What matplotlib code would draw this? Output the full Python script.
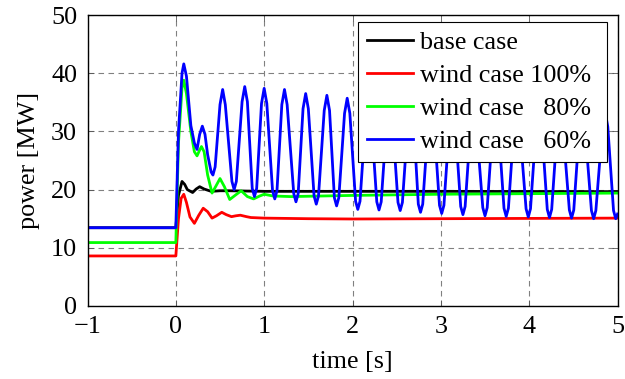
import matplotlib
matplotlib.use("Agg")
import matplotlib.pyplot as plt

plt.rcParams['font.family'] = ['Liberation Serif', 'DejaVu Serif']

# ---- data ----
t_base = [-1, 0, 0.03, 0.07, 0.10, 0.13, 0.19, 0.23, 0.27, 0.32, 0.40, 0.5, 0.6, 1.0, 2.0, 3.0, 5.0]
p_base = [13.45, 13.45, 19.0, 21.4, 20.9, 20.0, 19.5, 20.1, 20.5, 20.1, 19.7, 19.8, 19.8, 19.7, 19.7, 19.7, 19.65]

t_w100 = [-1, 0, 0.03, 0.06, 0.09, 0.12, 0.16, 0.21, 0.26, 0.31, 0.36, 0.41, 0.46, 0.52, 0.57,
          0.63, 0.68, 0.73, 0.80, 0.85, 1.0, 1.5, 2.0, 3.0, 4.0, 5.0]
p_w100 = [8.6, 8.6, 15.0, 18.5, 19.2, 17.8, 15.3, 14.2, 15.6, 16.8, 16.2, 15.1, 15.5, 16.1, 15.7,
          15.35, 15.5, 15.6, 15.35, 15.2, 15.1, 15.0, 14.95, 15.0, 15.05, 15.1]

t_w80 = [-1, 0, 0.03, 0.07, 0.09, 0.12, 0.17, 0.21, 0.24, 0.27, 0.29, 0.32, 0.36, 0.41, 0.45,
         0.50, 0.55, 0.61, 0.67, 0.74, 0.81, 0.88, 0.95, 1.00, 1.1, 1.3, 2.0, 3.0, 4.0, 5.0]
p_w80 = [10.9, 10.9, 28.0, 37.5, 38.8, 36.5, 30.0, 26.5, 25.8, 26.8, 27.4, 26.5, 22.5, 19.4, 20.5,
         21.9, 20.5, 18.3, 19.0, 19.8, 18.8, 18.4, 18.9, 19.2, 18.9, 18.8, 19.0, 19.2, 19.3, 19.4]

t_w60 = [-1, 0, 0.03, 0.07, 0.09, 0.12, 0.17, 0.21, 0.24, 0.27, 0.30, 0.33, 0.36, 0.40, 0.42, 0.445,
         0.50, 0.53, 0.56, 0.635, 0.66, 0.685, 0.75, 0.78, 0.81, 0.865, 0.89, 0.915,
         0.97, 1.00, 1.03, 1.095, 1.12, 1.145, 1.20, 1.23, 1.26, 1.335, 1.36, 1.385,
         1.44, 1.47, 1.50, 1.565, 1.59, 1.615, 1.68, 1.71, 1.74, 1.795, 1.82, 1.845,
         1.91, 1.94, 1.97, 2.035, 2.06, 2.085, 2.15, 2.18, 2.21, 2.275, 2.30, 2.325,
         2.39, 2.42, 2.45, 2.515, 2.54, 2.565, 2.63, 2.66, 2.69, 2.745, 2.77, 2.795,
         2.86, 2.89, 2.92, 2.985, 3.01, 3.035, 3.10, 3.13, 3.16, 3.225, 3.25, 3.275,
         3.34, 3.37, 3.40, 3.475, 3.50, 3.525, 3.59, 3.62, 3.65, 3.715, 3.74, 3.765,
         3.83, 3.86, 3.89, 3.965, 3.99, 4.015, 4.08, 4.11, 4.14, 4.205, 4.23, 4.255,
         4.32, 4.35, 4.38, 4.455, 4.48, 4.505, 4.57, 4.60, 4.63, 4.705, 4.73, 4.755,
         4.83, 4.86, 4.89, 4.955, 4.98, 5.0]
p_w60 = [13.45, 13.45, 30.0, 40.0, 41.6, 39.5, 31.0, 28.0, 26.9, 29.5, 30.9, 29.5, 26.0, 23.0, 22.5, 23.9,
         34.6, 37.2, 34.6, 21.4, 20.0, 21.4, 35.1, 37.7, 35.1, 20.2, 18.8, 20.2,
         34.8, 37.4, 34.8, 19.8, 18.4, 19.8, 34.6, 37.2, 34.6, 19.3, 17.9, 19.3,
         33.9, 36.5, 33.9, 18.9, 17.5, 18.9, 33.6, 36.2, 33.6, 18.6, 17.2, 18.6,
         33.1, 35.7, 33.1, 18.0, 16.6, 18.0, 32.7, 35.3, 32.7, 17.9, 16.5, 17.9,
         32.4, 35.0, 32.4, 17.8, 16.4, 17.8, 32.2, 34.8, 32.2, 17.5, 16.1, 17.5,
         32.0, 34.6, 32.0, 17.3, 15.9, 17.3, 31.8, 34.4, 31.8, 17.1, 15.7, 17.1,
         31.6, 34.2, 31.6, 16.9, 15.5, 16.9, 31.4, 34.0, 31.4, 16.8, 15.4, 16.8,
         31.3, 33.9, 31.3, 16.7, 15.3, 16.7, 31.1, 33.7, 31.1, 16.6, 15.2, 16.6,
         31.0, 33.6, 31.0, 16.5, 15.1, 16.5, 30.9, 33.5, 30.9, 16.4, 15.0, 16.4,
         30.8, 33.4, 30.8, 16.4, 15.0, 15.8]

labels = ['base case', 'wind case 100%', 'wind case   80%', 'wind case   60%']
colors = ['#000000', '#ff0000', '#00ff00', '#0000ff']

xticks = [-1, 0, 1, 2, 3, 4, 5]
yticks = [0, 10, 20, 30, 40, 50]

FS = 18.8

fig = plt.figure(figsize=(6.25, 3.79), dpi=100)
ax = fig.add_axes([87.5/625, 1-306/379, (617.5-87.5)/625, (306-15)/379])

series = [(t_base, p_base), (t_w100, p_w100), (t_w80, p_w80), (t_w60, p_w60)]
for (t, p), lab, c in zip(series, labels, colors):
    ax.plot(t, p, color=c, lw=2.0, label=lab, solid_joinstyle='round')

ax.set_xlim(-1, 5)
ax.set_ylim(0, 50)
ax.set_xticks(xticks)
ax.set_yticks(yticks)
ax.set_xticklabels(['\u22121' if v < 0 else str(v) for v in xticks])
ax.grid(True, color='#808080', linestyle=(0, (5, 4)), linewidth=0.8)
ax.set_axisbelow(True)
ax.tick_params(direction='in', length=4, width=0.6, color='#555555',
               top=True, right=True, labelsize=FS)
ax.tick_params(axis='x', pad=7.5)
ax.tick_params(axis='y', pad=7.5)
for s in ax.spines.values():
    s.set_linewidth(1.0)
    s.set_color('black')

ax.set_xlabel('time [s]', fontsize=FS, labelpad=9)
ax.set_ylabel('power [MW]', fontsize=FS, labelpad=8)

leg_x0 = (358.3 - 87.5) / 530
leg_w = (607.0 - 358.3) / 530
leg_top = (306 - 22.3) / 291
leg = ax.legend(loc='upper left', bbox_to_anchor=(leg_x0, leg_top - 0.5, leg_w, 0.5),
                mode='expand', borderaxespad=0,
                fontsize=FS, fancybox=False, framealpha=1, edgecolor='black',
                handlelength=1.74, handletextpad=0.28, labelspacing=0.37,
                borderpad=0.34)
leg.get_frame().set_linewidth(0.8)

fig.savefig('out.png', dpi=100)
